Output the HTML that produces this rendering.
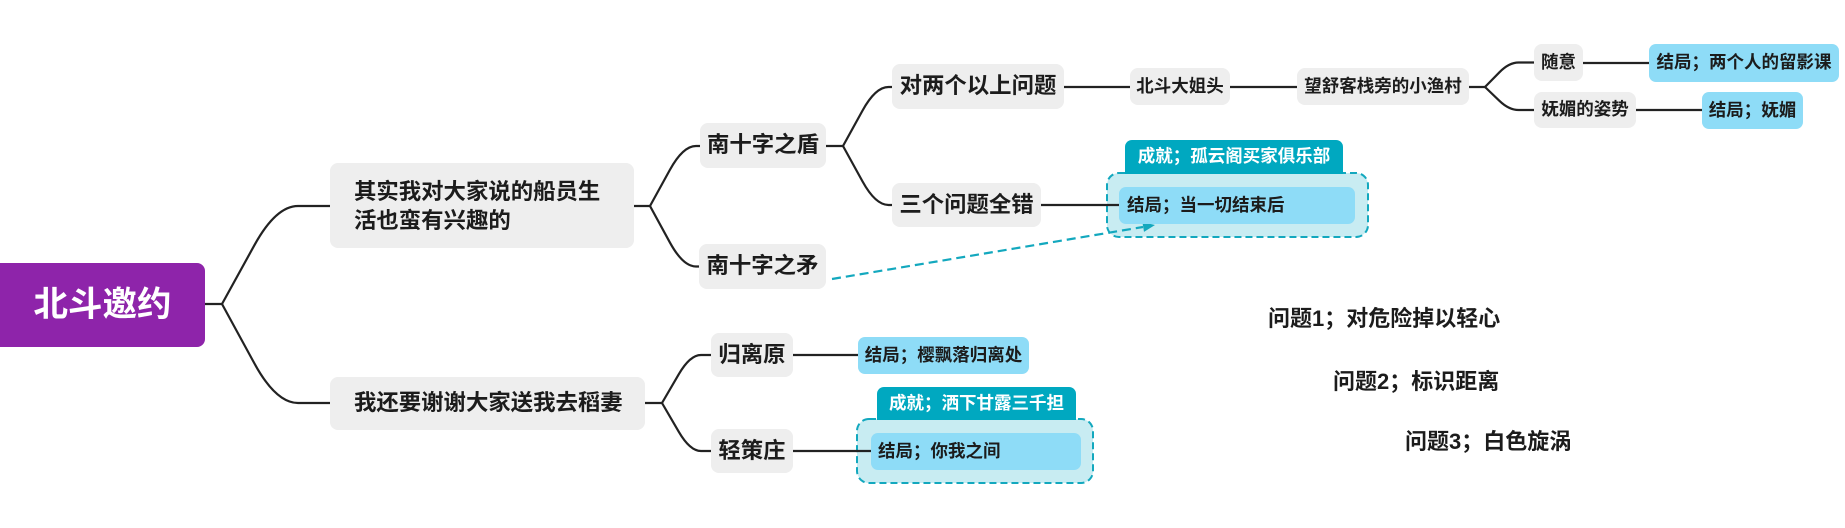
<!DOCTYPE html>
<html><head><meta charset="utf-8">
<style>
html,body{margin:0;padding:0;background:#fff;}
body{width:1845px;height:528px;position:relative;overflow:hidden;font-family:"Liberation Sans","Noto Sans CJK SC",sans-serif;font-weight:700;color:#1c1c1c;}
.n{position:absolute;display:flex;align-items:center;justify-content:center;white-space:nowrap;line-height:1;box-sizing:border-box;}
.g{background:#eeeeee;border-radius:8px;font-size:22.4px;}
.s{font-size:17.5px;}
.b{background:#8edcf7;border-radius:7px;font-size:17.5px;}
.t{background:#00a8c0;color:#fff;border-radius:7px 7px 0 0;font-size:17.5px;}
.l{justify-content:flex-start;}
svg{position:absolute;left:0;top:0;}
</style></head><body>
<svg width="1845" height="528" viewBox="0 0 1845 528">
  <!-- dashed group boxes -->
  <rect x="1107" y="173" width="261" height="64" rx="12" ry="12" fill="#c8ecf2" stroke="#13a8be" stroke-width="2" stroke-dasharray="7 4"/>
  <rect x="857" y="419" width="236" height="64" rx="12" ry="12" fill="#c8ecf2" stroke="#13a8be" stroke-width="2" stroke-dasharray="7 4"/>
  <g fill="none" stroke="#222" stroke-width="2.2" stroke-linecap="round" stroke-linejoin="round">
    <!-- root -->
    <path d="M205,304 L222,304"/>
    <path d="M222,304 L254.4,245.2 Q276,206 298,206 L330,206"/>
    <path d="M222,304 L254.4,363.4 Q276,403 298,403 L330,403"/>
    <!-- 其实我 -->
    <path d="M634,206 L650,206"/>
    <path d="M650,206 L669.8,170 Q683,146 696,146 L700,146"/>
    <path d="M650,206 L669.8,242.3 Q683,266.5 696,266.5 L699,266.5"/>
    <!-- 南十字之盾 -->
    <path d="M826,146 L843,146"/>
    <path d="M843,146 L862.5,110.6 Q875.5,87 888.5,87 L892,87"/>
    <path d="M843,146 L862.5,181.4 Q875.5,205 888.5,205 L892,205"/>
    <!-- chain -->
    <path d="M1064,87 L1130,87"/>
    <path d="M1230,87 L1297,87"/>
    <path d="M1469,87 L1485,87"/>
    <path d="M1485,87 L1499.4,72.3 Q1509,62.5 1518.6,62.5 L1534,62.5"/>
    <path d="M1485,87 L1499.4,100.8 Q1509,110 1518.6,110 L1534,110"/>
    <path d="M1583,63 L1649,63"/>
    <path d="M1636,110 L1702,110"/>
    <!-- 三个问题全错 -->
    <path d="M1041,205 L1119,205"/>
    <!-- 我还要 -->
    <path d="M645,403 L662,403"/>
    <path d="M662,403 L678.8,374.2 Q690,355 701,355 L711,355"/>
    <path d="M662,403 L678.8,431.8 Q690,451 701,451 L711,451"/>
    <path d="M793,355 L858,355"/>
    <path d="M793,451 L871,451"/>
  </g>
  <!-- dashed arrow -->
  <path d="M832,279 L1143,227" fill="none" stroke="#13a8be" stroke-width="2.2" stroke-dasharray="9 5"/>
  <polygon points="1155,225 1144,231.9 1142.4,222.1" fill="#13a8be"/>
</svg>

<div class="n" style="left:0;top:263px;width:205px;height:84px;background:#8e24aa;border-radius:0 8px 8px 0;color:#fff;font-size:34.5px;">北斗邀约</div>

<div class="n g l" style="left:330px;top:163px;width:304px;height:85px;padding-left:24px;"><div style="line-height:29px;white-space:nowrap;">其实我对大家说的船员生<br>活也蛮有兴趣的</div></div>
<div class="n g l" style="left:330px;top:377px;width:315px;height:53px;padding-left:24px;">我还要谢谢大家送我去稻妻</div>

<div class="n g" style="left:700px;top:123px;width:126px;height:45px;">南十字之盾</div>
<div class="n g" style="left:699px;top:244px;width:127px;height:45px;">南十字之矛</div>

<div class="n g" style="left:892px;top:64px;width:172px;height:45px;">对两个以上问题</div>
<div class="n g" style="left:892px;top:183px;width:149px;height:44px;">三个问题全错</div>

<div class="n g s" style="left:1130px;top:68px;width:100px;height:37px;">北斗大姐头</div>
<div class="n g s" style="left:1297px;top:68px;width:172px;height:37px;">望舒客栈旁的小渔村</div>
<div class="n g s" style="left:1534px;top:44px;width:49px;height:37px;">随意</div>
<div class="n g s" style="left:1534px;top:92px;width:102px;height:36px;">妩媚的姿势</div>
<div class="n b" style="left:1649px;top:44px;width:190px;height:38px;">结局；两个人的留影课</div>
<div class="n b" style="left:1702px;top:92px;width:101px;height:37px;">结局；妩媚</div>

<div class="n t" style="left:1125px;top:140px;width:218px;height:34px;">成就；孤云阁买家俱乐部</div>
<div class="n b l" style="left:1119px;top:187px;width:236px;height:37px;padding-left:8px;">结局；当一切结束后</div>

<div class="n g" style="left:711px;top:333px;width:82px;height:44px;">归离原</div>
<div class="n g" style="left:711px;top:429px;width:82px;height:44px;">轻策庄</div>
<div class="n b" style="left:858px;top:337px;width:171px;height:37px;">结局；樱飘落归离处</div>
<div class="n t" style="left:877px;top:387px;width:199px;height:33px;">成就；洒下甘露三千担</div>
<div class="n b l" style="left:871px;top:433px;width:210px;height:37px;padding-left:7px;">结局；你我之间</div>

<div class="n l" style="left:1268px;top:307px;height:24px;font-size:22px;">问题1；对危险掉以轻心</div>
<div class="n l" style="left:1333px;top:370px;height:24px;font-size:22px;">问题2；标识距离</div>
<div class="n l" style="left:1405px;top:430px;height:24px;font-size:22px;">问题3；白色旋涡</div>
</body></html>
